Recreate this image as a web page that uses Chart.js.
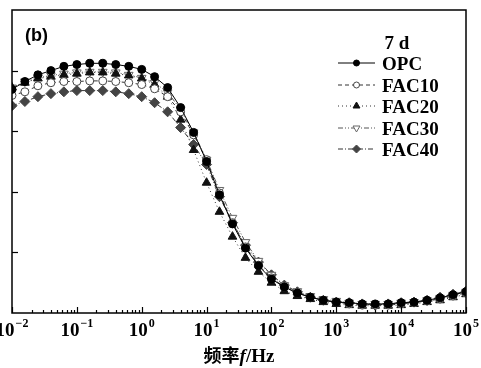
<!DOCTYPE html>
<html>
<head>
<meta charset="utf-8">
<script src="https://cdn.jsdelivr.net/npm/chart.js@4"></script>
<style>
  html, body { margin: 0; padding: 0; background: #fff; }
  #wrap { width: 481px; height: 368px; }
</style>
</head>
<body>
<div id="wrap"><canvas id="chart" width="481" height="368"></canvas></div>
<script>
// -------- data (0.2 decade steps) --------
const freqs = [0.01, 0.0158, 0.0251, 0.0398, 0.0631,
  0.1, 0.158, 0.251, 0.398, 0.631,
  1, 1.58, 2.51, 3.98, 6.31,
  10, 15.8, 25.1, 39.8, 63.1,
  100, 158, 251, 398, 631,
  1000, 1580, 2510, 3980, 6310,
  10000, 15800, 25100, 39800, 63100,
  100000];

const opc   = [3.69, 3.82, 3.93, 4.00, 4.07, 4.10, 4.12, 4.12, 4.10, 4.07, 4.02, 3.90, 3.72, 3.39, 2.98, 2.50, 1.95, 1.47, 1.07, 0.78, 0.56, 0.43, 0.33, 0.26, 0.21, 0.18, 0.17, 0.15, 0.15, 0.15, 0.17, 0.18, 0.21, 0.25, 0.30, 0.35];
const fac10 = [3.59, 3.65, 3.75, 3.80, 3.82, 3.82, 3.83, 3.83, 3.82, 3.80, 3.77, 3.70, 3.57, 3.32, 2.94, 2.53, 1.98, 1.49, 1.09, 0.79, 0.58, 0.43, 0.33, 0.26, 0.21, 0.18, 0.15, 0.13, 0.13, 0.13, 0.15, 0.17, 0.20, 0.23, 0.28, 0.33];
const fac20 = [3.72, 3.80, 3.87, 3.90, 3.93, 3.95, 3.97, 3.97, 3.95, 3.92, 3.87, 3.77, 3.57, 3.19, 2.69, 2.15, 1.67, 1.26, 0.91, 0.68, 0.50, 0.36, 0.28, 0.23, 0.18, 0.15, 0.13, 0.12, 0.12, 0.12, 0.13, 0.15, 0.18, 0.21, 0.26, 0.31];
const fac30 = [3.72, 3.82, 3.88, 3.92, 3.95, 3.97, 3.98, 3.98, 3.97, 3.93, 3.88, 3.80, 3.64, 3.36, 2.98, 2.53, 2.03, 1.57, 1.17, 0.86, 0.63, 0.46, 0.36, 0.28, 0.23, 0.20, 0.17, 0.15, 0.15, 0.15, 0.17, 0.18, 0.21, 0.25, 0.30, 0.35];
const fac40 = [3.42, 3.49, 3.57, 3.62, 3.65, 3.67, 3.67, 3.67, 3.65, 3.62, 3.57, 3.47, 3.32, 3.06, 2.78, 2.45, 1.92, 1.49, 1.12, 0.84, 0.63, 0.46, 0.35, 0.26, 0.21, 0.18, 0.17, 0.15, 0.13, 0.15, 0.17, 0.18, 0.21, 0.26, 0.31, 0.36];

const xTicks = [0.01, 0.1, 1, 10, 100, 1000, 10000, 100000];
const xExps  = ['\u22122', '\u22121', '0', '1', '2', '3', '4', '5'];
const yTicks = [1, 2, 3, 4];

const legendTitle = '7 d';
const seriesNames = ['OPC', 'FAC10', 'FAC20', 'FAC30', 'FAC40'];

// -------- styles per series --------
const styles = [
  { color: '#000', dash: [],           point: 'circle',   rot: 0,   r: 4,   fill: '#000', stroke: '#000' },
  { color: '#333', dash: [4, 3],       point: 'circle',   rot: 0,   r: 4,   fill: '#fff', stroke: '#444' },
  { color: '#333', dash: [1, 3],       point: 'triangle', rot: 0,   r: 5,   fill: '#111', stroke: '#111' },
  { color: '#555', dash: [5, 2, 1, 2, 1, 2], point: 'triangle', rot: 180, r: 5, fill: '#fff', stroke: '#666' },
  { color: '#333', dash: [5, 2, 1, 2], point: 'rectRot', rot: 0,   r: 5,   fill: '#444', stroke: '#444' }
];
const seriesValues = [opc, fac10, fac20, fac30, fac40];

const datasets = seriesValues.map((vals, i) => ({
  label: seriesNames[i],
  data: vals.map((v, k) => ({ x: freqs[k], y: v })),
  borderColor: styles[i].color,
  borderWidth: 1,
  borderDash: styles[i].dash,
  pointStyle: styles[i].point,
  rotation: styles[i].rot,
  pointRadius: styles[i].r,
  pointBackgroundColor: styles[i].fill,
  pointBorderColor: styles[i].stroke,
  pointBorderWidth: 1,
  tension: 0,
  clip: 0
}));

// frame, inward ticks, tick labels, axis title, legend
const decor = {
  id: 'decor',
  afterDraw(chart) {
    const { ctx, chartArea: a, scales: { x, y } } = chart;
    ctx.save();
    ctx.strokeStyle = '#000';
    ctx.setLineDash([]);

    // y ticks (left, inward)
    ctx.lineWidth = 1.2;
    yTicks.forEach(v => {
      const py = Math.round(y.getPixelForValue(v)) + 0.5;
      ctx.beginPath(); ctx.moveTo(a.left, py); ctx.lineTo(a.left + 6, py); ctx.stroke();
    });

    // x ticks (bottom, inward) major + minor
    for (let d = -2; d <= 5; d++) {
      const px = Math.round(x.getPixelForValue(Math.pow(10, d))) + 0.5;
      ctx.beginPath(); ctx.moveTo(px, a.bottom); ctx.lineTo(px, a.bottom - 6); ctx.stroke();
      if (d < 5) {
        for (let m = 2; m <= 9; m++) {
          const mx = Math.round(x.getPixelForValue(m * Math.pow(10, d))) + 0.5;
          ctx.beginPath(); ctx.moveTo(mx, a.bottom); ctx.lineTo(mx, a.bottom - 3); ctx.stroke();
        }
      }
    }

    // frame
    ctx.lineWidth = 1.5;
    ctx.strokeRect(a.left, a.top, a.right - a.left, a.bottom - a.top);

    // x tick labels 10^n
    ctx.fillStyle = '#000';
    ctx.textBaseline = 'alphabetic';
    const baseFont = 'bold 19px "Liberation Serif", serif';
    const supFont = 'bold 12px "Liberation Serif", serif';
    xTicks.forEach((v, i) => {
      const px = x.getPixelForValue(v);
      ctx.font = baseFont;
      const wb = ctx.measureText('10').width;
      ctx.font = supFont;
      const ws = ctx.measureText(xExps[i]).width;
      const left = px - (wb + ws + 1) / 2;
      ctx.font = baseFont;
      ctx.textAlign = 'left';
      ctx.fillText('10', left, 336);
      ctx.font = supFont;
      ctx.fillText(xExps[i], left + wb + 1, 327);
    });

    // axis title: 频率f/Hz
    const parts = [
      { t: '频率', f: 'bold 18px "Noto Sans CJK SC", sans-serif' },
      { t: 'f', f: 'italic bold 19px "Liberation Serif", serif' },
      { t: '/Hz', f: 'bold 19px "Liberation Serif", serif' }
    ];
    let total = 0;
    parts.forEach(p => { ctx.font = p.f; p.w = ctx.measureText(p.t).width; total += p.w; });
    let cx = 239 - total / 2;
    parts.forEach(p => { ctx.font = p.f; ctx.fillText(p.t, cx, 362); cx += p.w; });

    // panel label
    ctx.font = 'bold 18px "Liberation Sans", Arial, sans-serif';
    ctx.fillText('(b)', 25, 41);

    // legend
    ctx.font = 'bold 19px "Liberation Serif", serif';
    ctx.textAlign = 'center';
    ctx.fillText(legendTitle, 397, 49);
    ctx.textAlign = 'left';
    const rows = [63, 85, 106, 128, 149];
    styles.forEach((s, i) => {
      const ly = rows[i];
      ctx.strokeStyle = s.color;
      ctx.lineWidth = 1;
      ctx.setLineDash(s.dash);
      ctx.beginPath(); ctx.moveTo(338, ly); ctx.lineTo(375, ly); ctx.stroke();
      ctx.setLineDash([]);
      ctx.fillStyle = s.fill;
      ctx.strokeStyle = s.stroke;
      Chart.helpers.drawPoint(ctx, { pointStyle: s.point, rotation: s.rot, radius: s.r - 1, borderWidth: 1 }, 356.5, ly);
      ctx.fillStyle = '#000';
      ctx.fillText(seriesNames[i], 382, ly + 7);
    });
    ctx.restore();
  }
};

new Chart(document.getElementById('chart'), {
  type: 'line',
  data: { datasets },
  options: {
    responsive: false,
    animation: false,
    layout: { padding: { left: 12, right: 15, top: 10, bottom: 55 } },
    plugins: { legend: { display: false }, tooltip: { enabled: false } },
    scales: {
      x: { type: 'logarithmic', min: 0.01, max: 100000, display: false },
      y: { type: 'linear', min: 0, max: 5, display: false }
    }
  },
  plugins: [decor]
});
</script>
</body>
</html>
